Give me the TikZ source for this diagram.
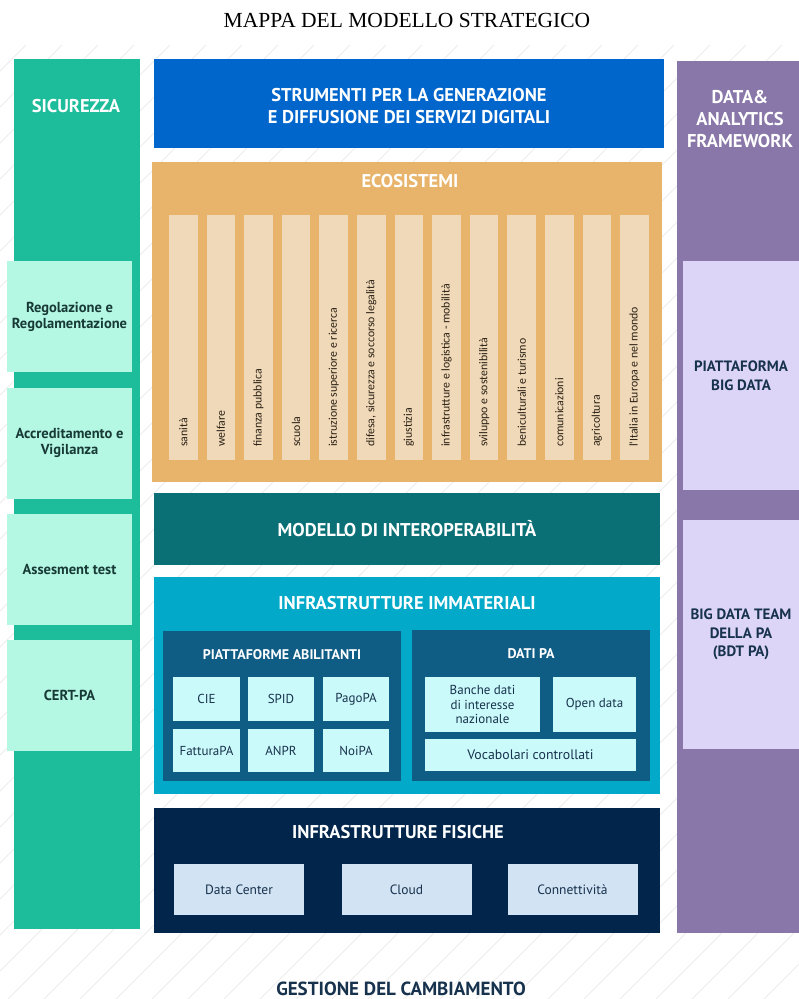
\documentclass[tikz,border=0pt]{standalone}
\usepackage{fontspec}
\setmainfont{PT Sans}
\newfontfamily\titlefont{Liberation Serif}
\newfontfamily\colfont{Carlito}
\definecolor{sgreen}{HTML}{1DBC9A}
\definecolor{mint}{HTML}{B4F7E2}
\definecolor{sblue}{HTML}{0066CC}
\definecolor{sorange}{HTML}{E8B46B}
\definecolor{pale}{HTML}{F0D9B8}
\definecolor{steal}{HTML}{0B7075}
\definecolor{scyan}{HTML}{02A9C9}
\definecolor{inblue}{HTML}{0F5C85}
\definecolor{icecyan}{HTML}{CBFAFA}
\definecolor{navy}{HTML}{02264B}
\definecolor{skyb}{HTML}{D2E3F3}
\definecolor{spurple}{HTML}{8877A8}
\definecolor{lav}{HTML}{DDD5F7}
\definecolor{dtext}{HTML}{17324D}
\definecolor{ctext}{HTML}{2A2015}
\definecolor{gtext}{HTML}{173A36}
\begin{document}
\begin{tikzpicture}[x=1pt,y=-1pt,
  box/.style={inner sep=0pt,outer sep=0pt,draw=none,align=center},
  hd/.style={text=white,font=\bfseries\fontsize{18.5}{22}\selectfont,align=center},
  sub/.style={text=white,font=\bfseries\fontsize{14}{17}\selectfont,align=center},
  card/.style={box,fill=mint,text=gtext,font=\bfseries\fontsize{14.5}{16}\selectfont,minimum width=125,minimum height=111},
  ibox/.style={box,fill=icecyan,text=dtext,font=\fontsize{13}{14.5}\selectfont},
  fbox/.style={box,fill=skyb,text=dtext,font=\fontsize{13.5}{15}\selectfont,minimum width=130,minimum height=51},
  lbox/.style={box,fill=lav,text=dtext,font=\bfseries\fontsize{15}{18.5}\selectfont,minimum width=116,minimum height=229},
  colbox/.style={box,fill=pale,minimum width=28.5,minimum height=245,anchor=north},
  coltext/.style={rotate=90,anchor=west,inner sep=0pt,text=ctext,font=\colfont\fontsize{11.8}{13}\selectfont},
  hatch/.style={draw=black!7,line width=1pt}]
\useasboundingbox (0,0) rectangle (799,999);
\fill[white] (0,0) rectangle (799,999);
\begin{scope}
  \clip (0,45) rectangle (799,999);
  \foreach \i in {-1000,-964,...,820} \draw[hatch] (\i,999) -- ++(960,-960);
\end{scope}

\node[font=\titlefont\fontsize{21.5}{24}\selectfont] (title) at (407,20) {MAPPA DEL MODELLO STRATEGICO};

% Sicurezza
\node[box,fill=sgreen,minimum width=126,minimum height=870,anchor=north west] (sic) at (14,59) {};
\node[hd] (sict) at (76,106) {SICUREZZA};
\node[card] (reg) at (69.5,316.5) {Regolazione e\\Regolamentazione};
\node[card] (acc) at (69.5,443) {Accreditamento e\\Vigilanza};
\node[card] (ass) at (69.5,569) {Assesment test};
\node[card] (cert) at (69.5,695) {CERT-PA};

% Strumenti
\node[box,fill=sblue,minimum width=510,minimum height=89,anchor=north west] (str) at (154,59) {};
\node[hd] (strt) at (409,106) {STRUMENTI PER LA GENERAZIONE\\E DIFFUSIONE DEI SERVIZI DIGITALI};

% Ecosistemi
\node[box,fill=sorange,minimum width=510,minimum height=320,anchor=north west] (eco) at (152,162) {};
\node[hd] (ecot) at (410,181) {ECOSISTEMI};
\foreach \t [count=\i from 0] in {sanità,welfare,finanza pubblica,scuola,istruzione superiore e ricerca,{difesa, sicurezza e soccorso legalità},giustizia,infrastrutture e logistica - mobilità,sviluppo e sostenibilità,beniculturali e turismo,comunicazioni,agricoltura,l'Italia in Europa e nel mondo}{
  \node[colbox] (col\i) at ({183.3+\i*37.6},215) {};
  \node[coltext] (colt\i) at ([yshift=13pt]col\i.south) {\t};
}

% Modello
\node[box,fill=steal,minimum width=506,minimum height=72,anchor=north west] (mod) at (154,493) {};
\node[hd] (modt) at (407,529) {MODELLO DI INTEROPERABILITÀ};

% Immateriali
\node[box,fill=scyan,minimum width=506,minimum height=217,anchor=north west] (imm) at (154,577) {};
\node[hd] (immt) at (407,603) {INFRASTRUTTURE IMMATERIALI};
\node[box,fill=inblue,minimum width=238,minimum height=150,anchor=north west] (pia) at (163,631) {};
\node[sub] (piat) at (282,655) {PIATTAFORME ABILITANTI};
\node[ibox,minimum width=67,minimum height=44] (cie) at (206.5,699) {CIE};
\node[ibox,minimum width=66,minimum height=44] (spid) at (281,699) {SPID};
\node[ibox,minimum width=66,minimum height=44] (pago) at (356,699) {PagoPA};
\node[ibox,minimum width=67,minimum height=43] (fatt) at (206.5,750.5) {FatturaPA};
\node[ibox,minimum width=66,minimum height=43] (anpr) at (281,750.5) {ANPR};
\node[ibox,minimum width=66,minimum height=43] (noi) at (356,750.5) {NoiPA};
\node[box,fill=inblue,minimum width=238,minimum height=151,anchor=north west] (dati) at (412,630) {};
\node[sub] (datit) at (531,654) {DATI PA};
\node[ibox,minimum width=115,minimum height=55] (banche) at (482.5,704.5) {Banche dati\\di interesse\\nazionale};
\node[ibox,minimum width=83,minimum height=55] (open) at (594.5,704.5) {Open data};
\node[ibox,minimum width=211,minimum height=32,font=\fontsize{13.8}{15}\selectfont] (voc) at (530.5,755) {Vocabolari controllati};

% Fisiche
\node[box,fill=navy,minimum width=506,minimum height=125,anchor=north west] (fis) at (154,808) {};
\node[hd] (fist) at (398,832) {INFRASTRUTTURE FISICHE};
\node[fbox] (dc) at (239,889.5) {Data Center};
\node[fbox] (cloud) at (406.5,889.5) {Cloud};
\node[fbox] (conn) at (572.5,889.5) {Connettività};

% Data & Analytics
\node[box,fill=spurple,minimum width=122,minimum height=872,anchor=north west] (daf) at (677,61) {};
\node[hd] (daft) at (740,119) {DATA\&\\ANALYTICS\\FRAMEWORK};
\node[lbox] (big) at (741,375.5) {PIATTAFORMA\\BIG DATA};
\node[lbox] (bdt) at (741,634.5) {\raisebox{-6pt}{\parbox{114pt}{\centering BIG DATA TEAM\\DELLA PA\\(BDT PA)}}};

% Gestione
\node[font=\bfseries\fontsize{19}{22}\selectfont,text=dtext] (ges) at (401,989) {GESTIONE DEL CAMBIAMENTO};
\end{tikzpicture}
\end{document}
